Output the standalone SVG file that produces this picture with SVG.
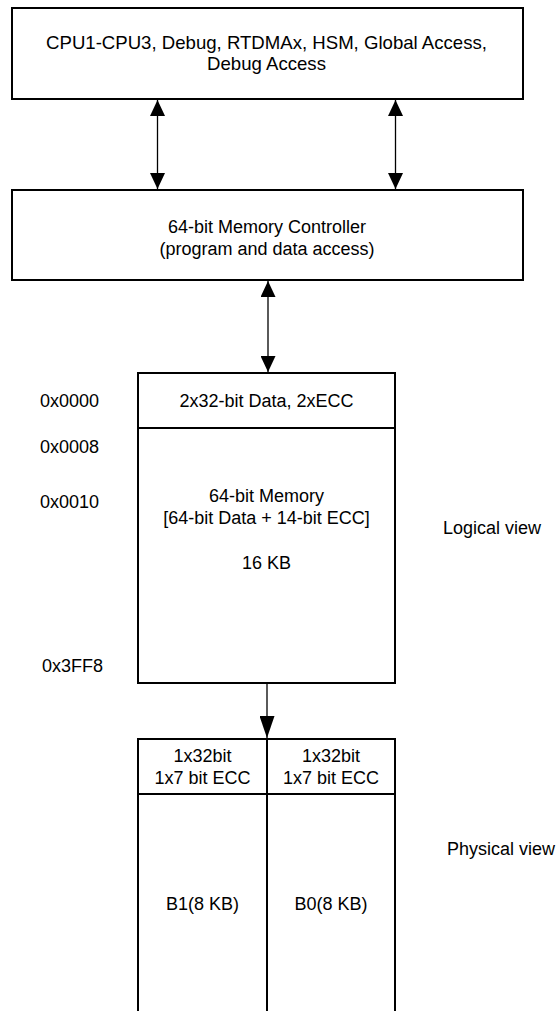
<svg xmlns="http://www.w3.org/2000/svg" width="559" height="1011" viewBox="0 0 559 1011">
<style>
.box{fill:#fff;stroke:#000;stroke-width:2}
.ln{stroke:#000;stroke-width:2;fill:none}
.t{font-family:"Liberation Sans",Arial,sans-serif;font-size:18px;fill:#000;text-anchor:middle}
.t2{font-size:18.6px}
.l{font-family:"Liberation Sans",Arial,sans-serif;font-size:18px;fill:#000;text-anchor:start}
.c{stroke:#000;stroke-width:1.3;fill:none}
</style>
<defs>
<marker id="ah" markerUnits="userSpaceOnUse" markerWidth="16" markerHeight="15" refX="16" refY="7.5" orient="auto-start-reverse" viewBox="0 0 16 15">
<path d="M0,0 L16,7.5 L0,15 z" fill="#000"/>
</marker>
<marker id="ah2" markerUnits="userSpaceOnUse" markerWidth="22" markerHeight="15" refX="22" refY="7.5" orient="auto" viewBox="0 0 22 15">
<path d="M0,0 L22,7.5 L0,15 z" fill="#000"/>
</marker>
</defs>
<rect width="559" height="1011" fill="#fff"/>
<g id="masters">
<rect class="box" x="12" y="8" width="511" height="91"/>
<text class="t t2" x="266.5" y="48.5">CPU1-CPU3, Debug, RTDMAx, HSM, Global Access,</text>
<text class="t t2" x="266.5" y="70">Debug Access</text>
</g>
<g id="controller">
<rect class="box" x="12" y="190" width="511" height="90"/>
<text class="t" x="267" y="232.5">64-bit Memory Controller</text>
<text class="t" x="267" y="254.5">(program and data access)</text>
</g>
<g id="logical">
<rect class="box" x="138" y="373" width="257" height="310"/>
<line class="ln" x1="138" y1="428" x2="395" y2="428"/>
<text class="t" x="266.5" y="406.5">2x32-bit Data, 2xECC</text>
<text class="t" x="266.5" y="501.5">64-bit Memory</text>
<text class="t" x="266.5" y="523.5">[64-bit Data + 14-bit ECC]</text>
<text class="t" x="266.5" y="568.5">16 KB</text>
</g>
<g id="addresses">
<text class="l" x="40" y="406.5">0x0000</text>
<text class="l" x="40" y="452.5">0x0008</text>
<text class="l" x="40" y="507.5">0x0010</text>
<text class="l" x="42" y="671.5">0x3FF8</text>
</g>
<g id="logical-label">
<text class="l" x="443" y="533.5">Logical view</text>
</g>
<g id="physical">
<rect class="box" x="138" y="739" width="257" height="290"/>
<line class="ln" x1="138" y1="794" x2="395" y2="794"/>
<line class="ln" x1="267" y1="739" x2="267" y2="1015"/>
<text class="t" x="202.5" y="761.5">1x32bit</text>
<text class="t" x="202.5" y="783.5">1x7 bit ECC</text>
<text class="t" x="331" y="761.5">1x32bit</text>
<text class="t" x="331" y="783.5">1x7 bit ECC</text>
<text class="t" x="202.5" y="909.5">B1(8 KB)</text>
<text class="t" x="331" y="909.5">B0(8 KB)</text>
</g>
<g id="physical-label">
<text class="l" x="447" y="854.5">Physical view</text>
</g>
<g id="connectors">
<line class="c" x1="157.5" y1="100" x2="157.5" y2="189" marker-start="url(#ah)" marker-end="url(#ah)"/>
<line class="c" x1="395.5" y1="100" x2="395.5" y2="189" marker-start="url(#ah)" marker-end="url(#ah)"/>
<line class="c" x1="268" y1="281" x2="268" y2="372" marker-start="url(#ah)" marker-end="url(#ah)"/>
<line class="c" x1="267" y1="684" x2="267" y2="738" marker-end="url(#ah2)"/>
</g>
</svg>
